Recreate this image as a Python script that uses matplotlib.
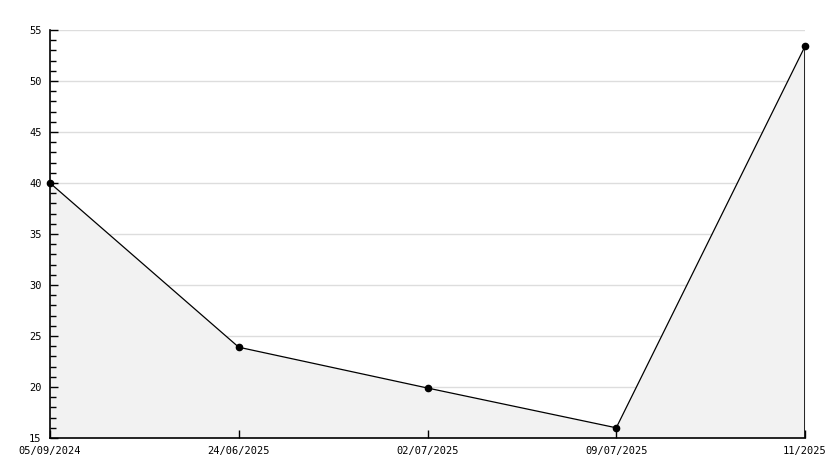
import matplotlib
matplotlib.use("Agg")
import matplotlib.pyplot as plt
from matplotlib.ticker import MultipleLocator

labels = ["05/09/2024", "24/06/2025", "02/07/2025", "09/07/2025", "11/2025"]
values = [40.0, 23.9, 19.9, 16.0, 53.4]

Y_MIN, Y_MAX = 15, 55
W, H = 834, 468

fig = plt.figure(figsize=(W / 100, H / 100), dpi=100)
ax = fig.add_axes([50 / W, 30 / H, (805 - 50) / W, (438 - 30) / H])

x = list(range(len(labels)))
ax.set_xlim(x[0], x[-1])
ax.set_ylim(Y_MIN, Y_MAX)
ax.yaxis.set_major_locator(MultipleLocator(5))
ax.yaxis.set_minor_locator(MultipleLocator(1))

# gridlines under the fill, ticks on top of it
for yv in ax.get_yticks():
    if Y_MIN < yv <= Y_MAX:
        ax.axhline(yv, color="#dddddd", lw=1, zorder=0)

ax.fill_between(x, values, Y_MIN, color="#f2f2f2", lw=0, zorder=1)
ax.plot([x[-1], x[-1]], [Y_MIN, values[-1]], color="black", lw=1.2, zorder=2)
ax.plot(x, values, color="black", lw=0.9, marker="o", ms=4.5, zorder=3,
        clip_on=False)

ax.set_xticks(x)
ax.set_xticklabels(labels)

for side in ["top", "right"]:
    ax.spines[side].set_visible(False)
for side in ["left", "bottom"]:
    ax.spines[side].set_linewidth(1.2)
    ax.spines[side].set_zorder(4)

ax.tick_params(axis="y", which="major", direction="in", length=6, width=1, pad=6)
ax.tick_params(axis="y", which="minor", direction="in", length=4, width=1)
ax.tick_params(axis="x", direction="in", length=6, width=1, pad=6)
for lab in ax.get_xticklabels() + ax.get_yticklabels():
    lab.set_fontfamily("DejaVu Sans Mono")
    lab.set_fontsize(7.5)

fig.savefig("out.png", dpi=100)
